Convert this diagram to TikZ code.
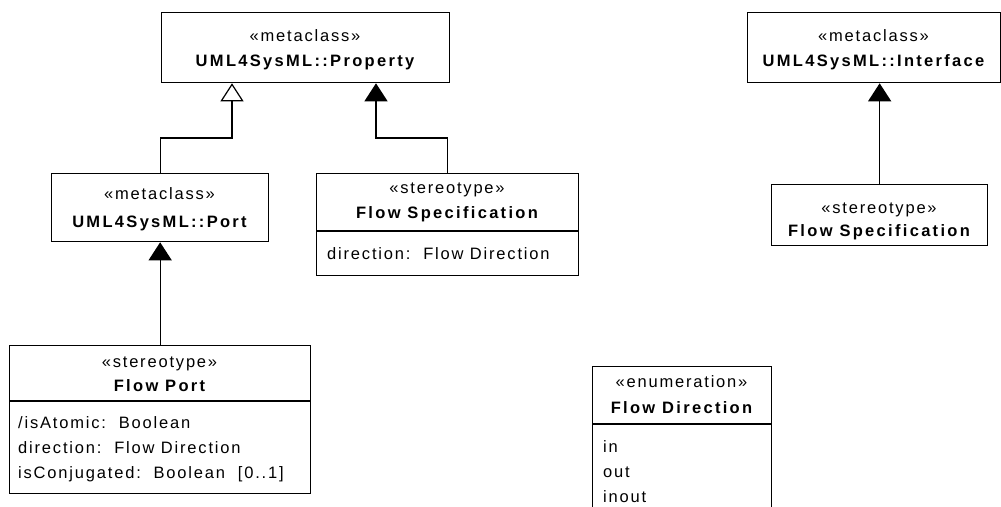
\documentclass[tikz,border=0pt]{standalone}
\usepackage{fontspec}
\setmainfont{Liberation Sans}[LetterSpace=11, BoldFeatures={LetterSpace=14}]
\usetikzlibrary{arrows.meta}
\begin{document}
\begin{tikzpicture}[x=1pt,y=-1pt,
  umlbox/.style={draw=black, line width=1.3pt, rectangle, inner sep=0pt, anchor=north west},
  sttext/.style={inner sep=0pt, anchor=base, font=\fontsize{16.5}{20}\selectfont},
  nmtext/.style={inner sep=0pt, anchor=base, font=\fontsize{16.5}{20}\selectfont\bfseries},
  attrtext/.style={inner sep=0pt, anchor=base west, font=\fontsize{16.5}{20}\selectfont},
  connline/.style={line width=1.3pt},
  genarrow/.style={connline, -{Triangle[open, length=18pt, width=23pt, line width=1.2pt]}},
  extarrow/.style={connline, -{Triangle[length=18pt, width=23pt]}}]
\useasboundingbox (0,0) rectangle (1001,506);
\clip (0,0) rectangle (1001,506);
% boxes
\node[umlbox, minimum width=288pt, minimum height=70pt] (prop) at (161,12) {};
\node[sttext] (propst) at (305,41) {«metaclass»};
\node[nmtext] (propnm) at (305,66) {UML4SysML::Property};

\node[umlbox, minimum width=217pt, minimum height=68pt] (port) at (51,173) {};
\node[sttext] (portst) at (159.5,199) {«metaclass»};
\node[nmtext] (portnm) at (159.5,227) {UML4SysML::Port};

\node[umlbox, minimum width=262pt, minimum height=102pt] (fspec) at (316,173) {};
\draw[connline] (fspec.west |- 0,231) coordinate (fsd1) -- (fsd1 -| fspec.east);
\node[sttext] (fspecst) at (447,193) {«stereotype»};
\node[nmtext] (fspecnm) at (447,218) {Flow Specification};
\node[attrtext] (fspeca) at (327,259) {direction:\ \ Flow Direction};

\node[umlbox, minimum width=301pt, minimum height=148pt] (fport) at (9,345) {};
\draw[connline] (fport.west |- 0,401) coordinate (fpd1) -- (fpd1 -| fport.east);
\node[sttext] (fportst) at (159.5,367) {«stereotype»};
\node[nmtext] (fportnm) at (159.5,391) {Flow Port};
\node[attrtext] (fporta1) at (18,428) {/isAtomic:\ \ Boolean};
\node[attrtext] (fporta2) at (18,453) {direction:\ \ Flow Direction};
\node[attrtext] (fporta3) at (18,478) {isConjugated:\ \ Boolean\ \ [0..1]};

\node[umlbox, minimum width=253pt, minimum height=70pt] (iface) at (747,12) {};
\node[sttext] (ifacest) at (873.5,41) {«metaclass»};
\node[nmtext] (ifacenm) at (873.5,66) {UML4SysML::Interface};

\node[umlbox, minimum width=216pt, minimum height=61pt] (fspec2) at (771,184) {};
\node[sttext] (fspec2st) at (879,213) {«stereotype»};
\node[nmtext] (fspec2nm) at (879,236) {Flow Specification};

\node[umlbox, minimum width=179pt, minimum height=160pt] (enum) at (592,366) {};
\draw[connline] (enum.west |- 0,424) coordinate (end1) -- (end1 -| enum.east);
\node[sttext] (enumst) at (681.5,387) {«enumeration»};
\node[nmtext] (enumnm) at (681.5,413) {Flow Direction};
\node[attrtext] (enum1) at (603,452) {in};
\node[attrtext] (enum2) at (603,477) {out};
\node[attrtext] (enum3) at (603,502) {inout};

% connectors
\coordinate (g1) at (232,138);
\draw[genarrow] (port.north) |- (g1) -- (g1 |- prop.south);
\coordinate (g2) at (376,138);
\draw[extarrow] (fspec.north) |- (g2) -- (g2 |- prop.south);
\draw[extarrow] (fport.north) -- (port.south);
\draw[extarrow] (fspec2.north) -- (fspec2.north |- iface.south);
\end{tikzpicture}
\end{document}
